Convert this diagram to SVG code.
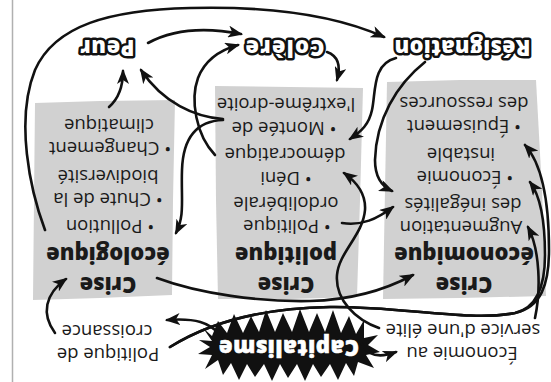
<svg xmlns="http://www.w3.org/2000/svg" width="551" height="382" viewBox="0 0 551 382">
<defs>
<style>
.box{fill:#d1d1d1}
.t{font-family:"Open Sans","Noto Sans","DejaVu Sans",sans-serif;font-size:18.5px;fill:#1a1a1a;text-anchor:middle}
.h{font-weight:800;font-size:22px}
.lbl{font-family:"Open Sans","Noto Sans","DejaVu Sans",sans-serif;font-weight:800;font-size:22px;fill:#fff;stroke:#111;stroke-width:5;stroke-linejoin:round;paint-order:stroke;text-anchor:middle}
.cap{font-family:"Open Sans","Noto Sans","DejaVu Sans",sans-serif;font-weight:800;font-size:22px;fill:#fff;stroke:#fff;stroke-width:0.6;text-anchor:middle}
.c{fill:none;stroke:#111;stroke-width:2.6;stroke-linecap:round;marker-end:url(#ah)}
</style>
<marker id="ah" markerUnits="userSpaceOnUse" viewBox="0 0 15 12" markerWidth="15" markerHeight="12" refX="13" refY="6" orient="auto">
<path d="M0,0 L15,6 L0,12 L4,6 Z" fill="#111"/>
</marker>
</defs>
<rect width="551" height="382" fill="#fff"/>
<line x1="12.5" y1="0" x2="12.5" y2="382" stroke="#b0b0b0" stroke-width="1.5"/>

<g id="crise-ecologique">
<polygon class="box" points="35,103 100,101 175,100 173,200 172,295 100,298 33,300 34,200"/>
<g transform="rotate(180 275.5 191)">
<text class="t h" x="443" y="105">Crise</text>
<text class="t h" x="443" y="135">écologique</text>
<text class="t" x="441" y="162">• Pollution</text>
<text class="t" x="443" y="189">• Chute de la</text>
<text class="t" x="443" y="212">biodiversité</text>
<text class="t" x="441" y="240">• Changement</text>
<text class="t" x="442" y="263">climatique</text>
</g>
</g>

<g id="crise-politique">
<polygon class="box" points="215,86 290,87 363,88 360,200 357,297 290,299 218,299 216,200"/>
<g transform="rotate(180 275.5 191)">
<text class="t h" x="265" y="105">Crise</text>
<text class="t h" x="265" y="135">politique</text>
<text class="t" x="264" y="162">• Politique</text>
<text class="t" x="265" y="185">ordolibérale</text>
<text class="t" x="265" y="210">• Déni</text>
<text class="t" x="266" y="234">démocratique</text>
<text class="t" x="267" y="260">• Montée de</text>
<text class="t" x="265" y="284">l'extrême-droite</text>
</g>
</g>

<g id="crise-economique">
<polygon class="box" points="387,82 460,80 536,80 542,190 546,296 460,298 383,299 385,190"/>
<g transform="rotate(180 275.5 191)">
<text class="t h" x="87" y="105">Crise</text>
<text class="t h" x="87" y="135">économique</text>
<text class="t" x="90" y="161">Augmentation</text>
<text class="t" x="88" y="184">des inégalités</text>
<text class="t" x="86" y="211">• Économie</text>
<text class="t" x="90" y="234">instable</text>
<text class="t" x="87" y="262">• Épuisement</text>
<text class="t" x="87" y="285">des ressources</text>
</g>
</g>

<g id="capitalisme">
<polygon fill="#111" points="212,336 218,321 227,333 234,314 243,333 251,316 259,332 266,310 275,332 283,313 292,332 300,309 309,332 317,313 325,332 333,310 341,333 349,316 356,334 364,320 364,338 378,335 368,345 380,352 366,355 374,368 358,362 354,376 346,363 338,380 330,364 321,377 313,364 305,381 297,364 288,378 280,364 272,381 264,364 255,377 247,364 239,380 231,363 223,375 218,360 205,369 212,355 198,354 210,347 199,340 212,341 203,328"/>
<g transform="rotate(180 275.5 191)">
<text class="cap" x="262" y="42" textLength="140" lengthAdjust="spacing">Capitalisme</text>
</g>
</g>

<g id="resignation"><g transform="rotate(180 275.5 191)"><text class="lbl" x="88.5" y="342" textLength="136" lengthAdjust="spacing">Résignation</text></g></g>
<g id="colere"><g transform="rotate(180 275.5 191)"><text class="lbl" x="266" y="342" textLength="79" lengthAdjust="spacing">Colère</text></g></g>
<g id="peur"><g transform="rotate(180 275.5 191)"><text class="lbl" x="443.5" y="342" textLength="54" lengthAdjust="spacing">Peur</text></g></g>

<g id="economie-elite"><g transform="rotate(180 275.5 191)">
<text class="t" x="89" y="35">Économie au</text>
<text class="t" x="88" y="58">service d'une élite</text>
</g></g>
<g id="politique-croissance"><g transform="rotate(180 275.5 191)">
<text class="t" x="443" y="34">Politique de</text>
<text class="t" x="444" y="57">croissance</text>
</g></g>

<g id="connectors">
<path class="c" d="M45,230 C30,190 15,120 35,70 C55,25 110,10 190,8 C270,6 335,15 384,37"/>
<path class="c" d="M148,43 C172,30 205,27 241,34"/>
<path class="c" d="M327,52 C338,56 341,66 337,80"/>
<path class="c" d="M396,58 C372,64 376,92 372,110 C369,124 362,131 350,139"/>
<path class="c" d="M425,62 C396,85 376,120 375,160 C375,176 381,186 392,191"/>
<path class="c" d="M223,119 C195,117 163,103 141,70"/>
<path class="c" d="M223,120 C196,121 183,138 182,170 C181,200 185,215 176,233"/>
<path class="c" d="M109,107 C117,100 123,90 123,71"/>
<path class="c" d="M215,155 C196,135 190,100 198,78 C205,60 220,50 238,45"/>
<path class="c" d="M342,223 C362,226 377,219 393,207"/>
<path class="c" d="M379,328 C356,320 335,300 337,275 C339,252 363,235 365,210 C366,195 358,183 344,173"/>
<path class="c" d="M157,278 C200,294 260,302 310,301 C352,300 385,290 413,275"/>
<path class="c" d="M170,347 C210,322 265,308 330,307 C400,306 470,322 515,313 C541,307 549,285 549,250 C549,205 543,165 525,145"/>
<path class="c" d="M170,347 C210,322 265,308 330,307 C400,306 470,322 515,313 C537,308 545,285 545,255 C545,225 542,198 530,182"/>
<path class="c" d="M535,318 C541,290 540,250 528,227"/>
<path class="c" d="M55,333 C41,314 45,294 66,279"/>
<path class="c" d="M221,336 C210,322 195,318 167,320"/>
<path class="c" d="M362,344 C368,356 380,358 396,352"/>
</g>
</svg>
